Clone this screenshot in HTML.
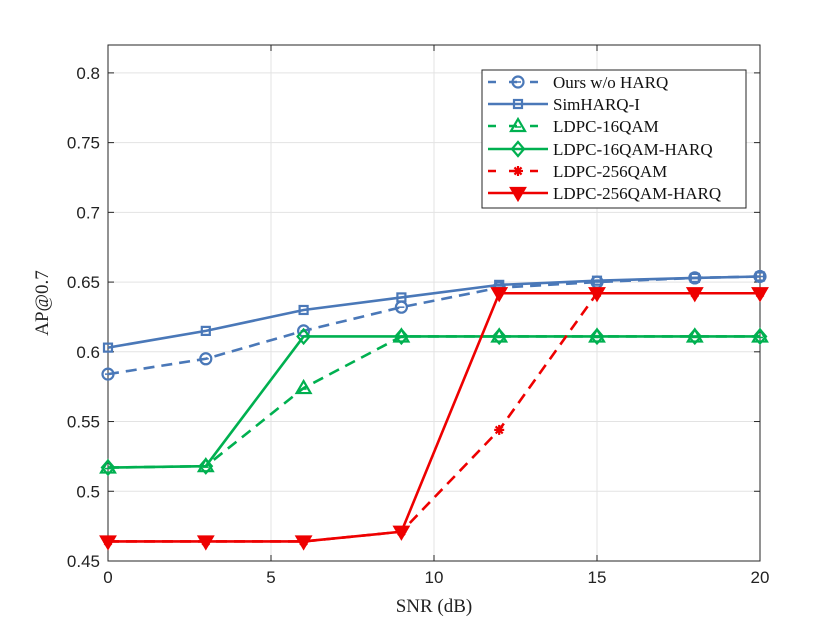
<!DOCTYPE html>
<html><head><meta charset="utf-8"><style>
body{margin:0;background:#fff}
svg text{font-family:"Liberation Serif",serif}
</style></head><body>
<svg id="chart" width="840" height="630" viewBox="0 0 840 630">
<rect width="840" height="630" fill="#fff"/>
<g id="grid"></g>
<g id="axes"></g>
<g id="series"></g>
<g id="legend"></g>
</svg>
<script>
const snr = [0,3,6,9,12,15,18,20];
const oursNoHarq = [0.584,0.595,0.615,0.632,0.646,0.650,0.653,0.654];
const simHarq = [0.603,0.615,0.630,0.639,0.648,0.651,0.653,0.654];
const ldpc16 = [0.517,0.518,0.574,0.611,0.611,0.611,0.611,0.611];
const ldpc16Harq = [0.517,0.518,0.611,0.611,0.611,0.611,0.611,0.611];
const ldpc256 = [0.464,0.464,0.464,0.471,0.544,0.642,0.642,0.642];
const ldpc256Harq = [0.464,0.464,0.464,0.471,0.642,0.642,0.642,0.642];
const xTicks = [0,5,10,15,20];
const yTicks = [0.45,0.5,0.55,0.6,0.65,0.7,0.75,0.8];
const yTickLabels = ["0.45","0.5","0.55","0.6","0.65","0.7","0.75","0.8"];

const L=108,R=760,T=45,B=561;
const xs=v=>L+(v-0)/20*(R-L);
const ys=v=>B-(v-0.45)/(0.82-0.45)*(B-T);
const NS="http://www.w3.org/2000/svg";
function mk(tag,attrs,parent){const e=document.createElementNS(NS,tag);for(const k in attrs)e.setAttribute(k,attrs[k]);parent.appendChild(e);return e;}
const grid=document.getElementById('grid'),axes=document.getElementById('axes'),ser=document.getElementById('series'),leg=document.getElementById('legend');

xTicks.forEach(t=>{
 const l=mk('line',{x1:xs(t),x2:xs(t),y1:T,y2:B,stroke:'#e3e3e3','stroke-width':1},grid);
 
 
 const tx=mk('text',{x:xs(t),y:B+22,'text-anchor':'middle','font-size':17,fill:'#222',style:'font-family:"Liberation Sans",sans-serif'},axes);
 tx.textContent=t;
 
 
 mk('line',{x1:xs(t),x2:xs(t),y1:B,y2:B-6,stroke:'#262626'},axes);
 mk('line',{x1:xs(t),x2:xs(t),y1:T,y2:T+6,stroke:'#262626'},axes);
});
yTicks.forEach((t,i)=>{
 const l=mk('line',{x1:L,x2:R,y1:ys(t),y2:ys(t),stroke:'#e3e3e3','stroke-width':1},grid);
 
 
 const tx=mk('text',{x:L-8,y:ys(t)+6,'text-anchor':'end','font-size':17,fill:'#222',style:'font-family:"Liberation Sans",sans-serif'},axes);
 tx.textContent=yTickLabels[i];
 
 
 mk('line',{x1:L,x2:L+6,y1:ys(t),y2:ys(t),stroke:'#262626'},axes);
 mk('line',{x1:R,x2:R-6,y1:ys(t),y2:ys(t),stroke:'#262626'},axes);
});
const box=mk('rect',{x:L,y:T,width:R-L,height:B-T,fill:'none',stroke:'#262626','stroke-width':1},axes);


const xl=mk('text',{x:(L+R)/2,y:612,'text-anchor':'middle','font-size':19,fill:'#222'},axes);
xl.textContent='SNR (dB)';


const yl=mk('text',{x:0,y:0,'text-anchor':'middle','font-size':19,fill:'#222',transform:`translate(48,${(T+B)/2}) rotate(-90)`},axes);
yl.textContent='AP@0.7';



const BLUE='#4a78b8',GREEN='#00b050',RED='#ee0000';
function marker(g,type,x,y,c){
 const sw=2.2;
 if(type==='circle'){mk('circle',{cx:x,cy:y,r:5.5,fill:'none',stroke:c,'stroke-width':sw},g);mk('line',{x1:x-3,x2:x+3,y1:y,y2:y,stroke:c,'stroke-width':1.5},g);}
 else if(type==='square'){mk('rect',{x:x-4,y:y-4,width:8,height:8,fill:'none',stroke:c,'stroke-width':sw},g);}
 else if(type==='tri'){mk('path',{d:`M${x},${y-7}L${x+7},${y+5}L${x-7},${y+5}Z`,fill:'none',stroke:c,'stroke-width':sw},g);mk('line',{x1:x-3,x2:x+3,y1:y+1,y2:y+1,stroke:c,'stroke-width':1.5},g);}
 else if(type==='diamond'){mk('path',{d:`M${x},${y-7}L${x+6},${y}L${x},${y+7}L${x-6},${y}Z`,fill:'none',stroke:c,'stroke-width':sw},g);}
 else if(type==='star'){for(let a=0;a<4;a++){const an=a*Math.PI/4;mk('line',{x1:x-5*Math.cos(an),y1:y-5*Math.sin(an),x2:x+5*Math.cos(an),y2:y+5*Math.sin(an),stroke:c,'stroke-width':2.2},g);}}
 else if(type==='dtri'){mk('path',{d:`M${x},${y+7}L${x+7},${y-5}L${x-7},${y-5}Z`,fill:c,stroke:c,'stroke-width':sw},g);}
}
const seriesDefs=[
 {name:'Ours w/o HARQ',data:oursNoHarq,c:BLUE,dash:true,m:'circle',dn:'series-ours-no-harq'},
 {name:'SimHARQ-I',data:simHarq,c:BLUE,dash:false,m:'square',dn:'series-simharq'},
 {name:'LDPC-16QAM',data:ldpc16,c:GREEN,dash:true,m:'tri',dn:'series-ldpc16'},
 {name:'LDPC-16QAM-HARQ',data:ldpc16Harq,c:GREEN,dash:false,m:'diamond',dn:'series-ldpc16-harq'},
 {name:'LDPC-256QAM',data:ldpc256,c:RED,dash:true,m:'star',dn:'series-ldpc256'},
 {name:'LDPC-256QAM-HARQ',data:ldpc256Harq,c:RED,dash:false,m:'dtri',dn:'series-ldpc256-harq'}
];
seriesDefs.forEach(s=>{
 const g=mk('g',{},ser);
 
 
 const pts=s.data.map((v,i)=>xs(snr[i])+','+ys(v)).join(' ');
 const pl=mk('polyline',{points:pts,fill:'none',stroke:s.c,'stroke-width':2.6,'stroke-dasharray':s.dash?'11,7':'none'},g);
 
 
 s.data.forEach((v,i)=>marker(g,s.m,xs(snr[i]),ys(v),s.c));
});
// legend
const lb=mk('rect',{x:482,y:70,width:264,height:138,fill:'#fff',stroke:'#262626','stroke-width':1},leg);


const rowsY=[82,104,126,149,171,193];
seriesDefs.forEach((s,i)=>{
 const g=mk('g',{},leg);
 
 
 const y=rowsY[i];
 mk('line',{x1:488,x2:548,y1:y,y2:y,stroke:s.c,'stroke-width':2.6,'stroke-dasharray':s.dash?'8,13':'none'},g);
 marker(g,s.m,518,y,s.c);
 const t=mk('text',{x:553,y:y+6,'font-size':17,fill:'#111'},g);
 t.textContent=s.name;
});
</script>
</body></html>
